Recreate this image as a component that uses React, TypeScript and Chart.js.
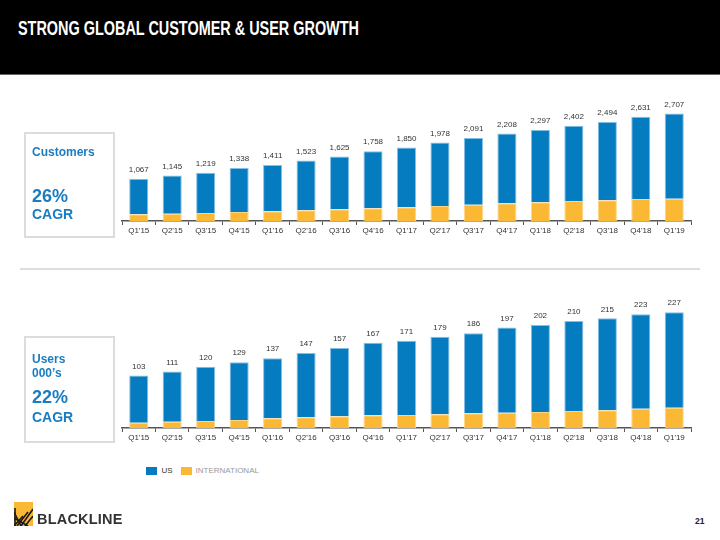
import React, { useEffect, useRef } from "react";
import { Chart, registerables } from "chart.js";

Chart.register(...registerables);

const QUARTERS = ["Q1'15", "Q2'15", "Q3'15", "Q4'15", "Q1'16", "Q2'16", "Q3'16", "Q4'16", "Q1'17", "Q2'17", "Q3'17", "Q4'17", "Q1'18", "Q2'18", "Q3'18", "Q4'18", "Q1'19"];
const CUSTOMERS_TOTAL = [1067, 1145, 1219, 1338, 1411, 1523, 1625, 1758, 1850, 1978, 2091, 2208, 2297, 2402, 2494, 2631, 2707];
const CUSTOMERS_INTL = [169, 184, 202, 227, 244, 270, 295, 320, 345, 378, 411, 446, 471, 504, 521, 554, 562];
const USERS_TOTAL = [103, 111, 120, 129, 137, 147, 157, 167, 171, 179, 186, 197, 202, 210, 215, 223, 227];
const USERS_INTL = [10.4, 12.4, 13.7, 15.7, 19, 21, 23, 25, 25.5, 26.9, 28.8, 30, 31.4, 33.3, 34.7, 37.8, 39.8];

const BLUE = "#057BC0";
const YELLOW = "#FBB834";
const FONT = "'Liberation Sans', Arial, sans-serif";

type BarProps = {
  totals: number[];
  intl: number[];
  max: number;
  top: number;
  pad: { top: number; bottom: number };
};

function StackedBars({ totals, intl, max, top, pad }: BarProps) {
  const ref = useRef<HTMLCanvasElement | null>(null);
  useEffect(() => {
    if (!ref.current) return;
    const us = totals.map((t, i) => t - intl[i]);
    const labelPlugin = {
      id: "totals",
      afterDatasetsDraw(chart: any) {
        const ctx = chart.ctx;
        const meta = chart.getDatasetMeta(1);
        const y = chart.scales.y;
        ctx.save();
        ctx.font = `8px ${FONT}`;
        ctx.fillStyle = "#333";
        ctx.textAlign = "center";
        ctx.textBaseline = "bottom";
        totals.forEach((t, i) => {
          const x = meta.data[i].x;
          ctx.fillText(t.toLocaleString("en-US"), x, y.getPixelForValue(t) - 5);
        });
        ctx.restore();
      },
    };
    const chart = new Chart(ref.current, {
      type: "bar",
      data: {
        labels: QUARTERS,
        datasets: [
          {
            label: "INTERNATIONAL",
            data: intl,
            backgroundColor: YELLOW,
            borderColor: "#FDD583",
            borderWidth: 1,
            barPercentage: 0.57,
            categoryPercentage: 1,
          },
          {
            label: "US",
            data: us,
            backgroundColor: BLUE,
            borderColor: "#86BFE6",
            borderWidth: 1,
            barPercentage: 0.57,
            categoryPercentage: 1,
          },
        ],
      },
      options: {
        responsive: false,
        animation: false,
        devicePixelRatio: 1,
        layout: { padding: { left: 122, right: 29, top: pad.top, bottom: pad.bottom } },
        plugins: { legend: { display: false }, tooltip: { enabled: false } },
        scales: {
          x: {
            stacked: true,
            afterFit: (s: any) => {
              s.height = 20;
            },
            border: { display: true, color: "#555", width: 1.5 },
            grid: { display: true, drawOnChartArea: false, drawTicks: true, tickLength: 4, color: "#555", offset: true },
            ticks: { color: "#333", font: { size: 8, family: FONT }, padding: 1, maxRotation: 0, autoSkip: false },
          },
          y: { stacked: true, display: false, min: 0, max },
        },
      },
      plugins: [labelPlugin],
    });
    return () => chart.destroy();
  }, []);
  return (
    <canvas
      ref={ref}
      width={720}
      height={160}
      style={{ position: "absolute", left: 0, top, width: 720, height: 160 }}
    />
  );
}

const boxText = (top: number, size: number): React.CSSProperties => ({
  position: "absolute",
  left: 32,
  top,
  fontSize: size,
  fontWeight: "bold",
  color: "#1A7DC2",
  lineHeight: `${size}px`,
  whiteSpace: "nowrap",
});

export default function App() {
  return (
    <div style={{ position: "absolute", left: 0, top: 0, width: 720, height: 540, background: "#fff", fontFamily: FONT, overflow: "hidden" }}>
      <div style={{ position: "absolute", left: 0, top: 0, width: 720, height: 74, background: "#000", borderBottom: "1px solid #666" }} />
      <div style={{ position: "absolute", left: 18, top: 17, color: "#fff", fontSize: 19.5, fontWeight: "bold", whiteSpace: "nowrap", lineHeight: "22px", transform: "scaleX(0.74)", transformOrigin: "left center" }}>
        STRONG GLOBAL CUSTOMER &amp; USER GROWTH
      </div>

      <StackedBars totals={CUSTOMERS_TOTAL} intl={CUSTOMERS_INTL} max={3000} top={90} pad={{ top: 12, bottom: 9 }} />
      <StackedBars totals={USERS_TOTAL} intl={USERS_INTL} max={250} top={290} pad={{ top: 10.5, bottom: 2 }} />

      <div style={{ position: "absolute", left: 24, top: 132, width: 87, height: 102, border: "2px solid #DCDCDC" }} />
      <div style={boxText(146, 12)}>Customers</div>
      <div style={boxText(187, 18)}>26%</div>
      <div style={boxText(207, 14)}>CAGR</div>

      <div style={{ position: "absolute", left: 20, top: 268, width: 680, height: 2, background: "#DDDDDD" }} />

      <div style={{ position: "absolute", left: 24, top: 336, width: 87, height: 103, border: "2px solid #DCDCDC" }} />
      <div style={boxText(353, 12)}>Users</div>
      <div style={boxText(366.5, 12)}>000’s</div>
      <div style={boxText(388, 18)}>22%</div>
      <div style={boxText(410, 14)}>CAGR</div>

      <div style={{ position: "absolute", left: 146, top: 466.5, width: 10.5, height: 8, background: BLUE }} />
      <div style={{ position: "absolute", left: 161.5, top: 466, fontSize: 8, lineHeight: "9px", color: "#333" }}>US</div>
      <div style={{ position: "absolute", left: 180.5, top: 466.5, width: 11, height: 8, background: YELLOW }} />
      <div style={{ position: "absolute", left: 195.5, top: 466, fontSize: 8, lineHeight: "9px", color: "#999" }}>INTERNATIONAL</div>

      <svg style={{ position: "absolute", left: 14, top: 502 }} width={19} height={24} viewBox="0 0 19 24">
        <rect x={0} y={0} width={19} height={24} fill={YELLOW} />
        <g stroke="#1a1a1a" strokeWidth={1.6} fill="none">
          <line x1={1} y1={6} x2={1} y2={24} />
          <line x1={0} y1={10} x2={7} y2={24} />
          <line x1={0} y1={24} x2={9} y2={14} />
          <line x1={3} y1={24} x2={14} y2={10} />
          <line x1={7} y1={24} x2={19} y2={7} />
          <line x1={11} y1={24} x2={19} y2={14} />
          <line x1={0} y1={16} x2={14} y2={24} />
        </g>
      </svg>
      <div style={{ position: "absolute", left: 37, top: 511, fontSize: 14.5, fontWeight: "bold", color: "#333", lineHeight: "16px", letterSpacing: 0.2 }}>BLACKLINE</div>

      <div style={{ position: "absolute", left: 695, top: 516, fontSize: 8.5, fontWeight: "bold", color: "#222", lineHeight: "10px" }}>21</div>
    </div>
  );
}
